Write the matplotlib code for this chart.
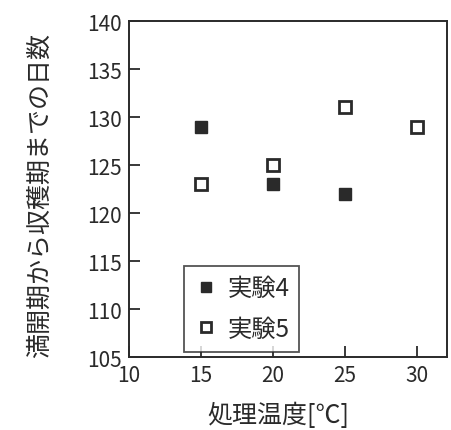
import matplotlib
matplotlib.use("Agg")
import matplotlib.pyplot as plt

plt.rcParams['font.family'] = ['Noto Sans CJK JP', 'DejaVu Sans']

# Days from full bloom to harvest vs. treatment temperature
temp_exp4 = [15, 20, 25]
days_exp4 = [129, 123, 122]
temp_exp5 = [15, 20, 25, 30]
days_exp5 = [123, 125, 131, 129]

x_ticks = [10, 15, 20, 25, 30]
y_ticks = [105, 110, 115, 120, 125, 130, 135, 140]

ink = '#2a2a2a'
W, H = 452, 431

fig = plt.figure(figsize=(W / 100, H / 100), dpi=100)
ax = fig.add_axes([129 / W, 1 - 358 / H, (447 - 129) / W, (358 - 22) / H])

ax.plot(temp_exp4, days_exp4, linestyle='none', marker='s', markersize=8.5,
        markerfacecolor=ink, markeredgecolor=ink, label='実験4')
ax.plot(temp_exp5, days_exp5, linestyle='none', marker='s', markersize=8.0,
        markerfacecolor='white', markeredgecolor=ink, markeredgewidth=2.0, label='実験5')

ax.set_xlim(10, 32.1)
ax.set_ylim(105, 140)
ax.set_xticks(x_ticks)
ax.set_yticks(y_ticks)
ax.tick_params(direction='in', length=8, width=1.3, colors=ink,
               labelsize=15, top=False, right=False)
ax.tick_params(axis='x', pad=5)
ax.tick_params(axis='y', pad=5)
for s in ax.spines.values():
    s.set_linewidth(1.4)
    s.set_color(ink)

ax.set_xlabel('処理温度[℃]', fontsize=18, color=ink)
ax.set_ylabel('満開期から収穫期までの日数', fontsize=18, color=ink)
ax.xaxis.set_label_coords((278 - 129) / 318, -(416 - 358) / 336)
ax.yaxis.set_label_coords(-(129 - 40) / 318, (358 - 196) / 336)
ax.xaxis.label.set_va('center')
ax.yaxis.label.set_va('center')

leg = ax.legend(loc='lower left', bbox_to_anchor=(0.172, 0.016), fontsize=17.5,
                frameon=True, fancybox=False, edgecolor=ink, borderpad=0.4,
                handletextpad=0.4, handlelength=1.0, labelspacing=0.6,
                borderaxespad=0, markerscale=0.85)
leg.get_frame().set_linewidth(1.3)
for t in leg.get_texts():
    t.set_color(ink)

fig.savefig('out.png', dpi=100)
